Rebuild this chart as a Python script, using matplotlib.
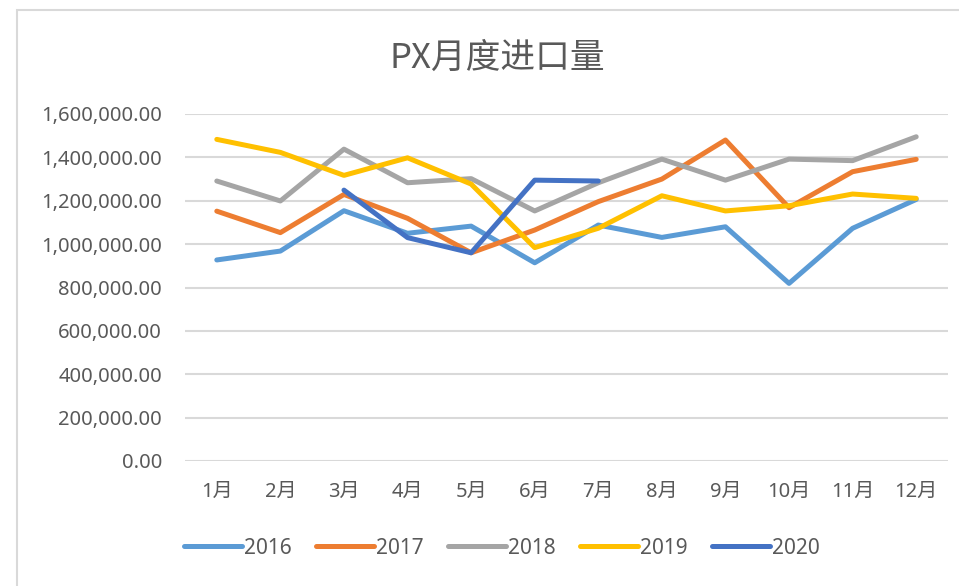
# PX monthly import volume, 2016-2020, redrawn as an Excel-style line chart.
import numpy as np
import matplotlib
matplotlib.use('Agg')
import matplotlib.pyplot as plt
from matplotlib.patches import Rectangle
from matplotlib.ticker import FuncFormatter

# Data
months = ['1月', '2月', '3月', '4月', '5月', '6月', '7月', '8月', '9月', '10月', '11月', '12月']
px_2016 = [927000, 968000, 1154000, 1050000, 1083000, 914000, 1088000, 1031000, 1080000, 819000, 1073000, 1206000]
px_2017 = [1152000, 1053000, 1229000, 1119000, 960000, 1065000, 1196000, 1300000, 1480000, 1168000, 1334000, 1391000]
px_2018 = [1291000, 1199000, 1438000, 1283000, 1302000, 1153000, 1283000, 1392000, 1295000, 1392000, 1385000, 1495000]
px_2019 = [1483000, 1423000, 1317000, 1398000, 1277000, 984000, 1073000, 1223000, 1153000, 1177000, 1231000, 1211000]
px_2020 = [np.nan, np.nan, 1249000, 1030000, 960000, 1295000, 1291000, np.nan, np.nan, np.nan, np.nan, np.nan]
series_names = ['2016', '2017', '2018', '2019', '2020']
y_ticks = [0, 200000, 400000, 600000, 800000, 1000000, 1200000, 1400000, 1600000]

colors = ['#5B9BD5', '#ED7D31', '#A5A5A5', '#FFC000', '#4472C4']
text_color = '#595959'
fonts = ['Noto Sans', 'Noto Sans CJK SC', 'DejaVu Sans']
plt.rcParams['font.family'] = fonts

fig = plt.figure(figsize=(9.59, 5.86), dpi=100)

# chart border (only top and left edges are inside the screenshot)
fig.patches.append(Rectangle((17 / 959, -0.1), 1.2, 1 - 10 / 586 + 0.1,
                             transform=fig.transFigure, fill=False,
                             edgecolor='#D9D9D9', linewidth=1.5))

ax = fig.add_axes([185 / 959, 1 - 461 / 586, (948 - 185) / 959, (461 - 114) / 586])

x = np.arange(len(months))
all_series = [px_2016, px_2017, px_2018, px_2019, px_2020]
for name, vals, c in zip(series_names, all_series, colors):
    ax.plot(x, vals, color=c, linewidth=3.6, label=name,
            solid_capstyle='round', solid_joinstyle='round')

ax.set_xlim(-0.5, len(months) - 0.5)
ax.set_ylim(0, 1600000)
ax.set_yticks(y_ticks)
ax.yaxis.set_major_formatter(FuncFormatter(lambda v, p: f'{v:,.2f}'))
ax.set_xticks(x)
ax.set_xticklabels(months)

ax.grid(axis='y', color='#D9D9D9', linewidth=1.5)
ax.set_axisbelow(True)
for s in ax.spines.values():
    s.set_visible(False)
ax.tick_params(axis='both', length=0, labelsize=14.5, colors=text_color)
ax.tick_params(axis='y', pad=16.5)
ax.tick_params(axis='x', pad=15)

fig.text(497 / 959, 1 - 58 / 586, 'PX月度进口量', ha='center', va='center',
         fontsize=25, color=text_color, family=['Noto Sans CJK SC', 'DejaVu Sans'],
         fontweight='light')

fig.legend(loc='center', bbox_to_anchor=(502 / 959, 1 - 548 / 586), ncol=5,
           frameon=False, fontsize=15, handlelength=2.8, handletextpad=0.1,
           columnspacing=1.15, labelcolor=text_color)

fig.savefig('out.png', dpi=100, facecolor='white')
